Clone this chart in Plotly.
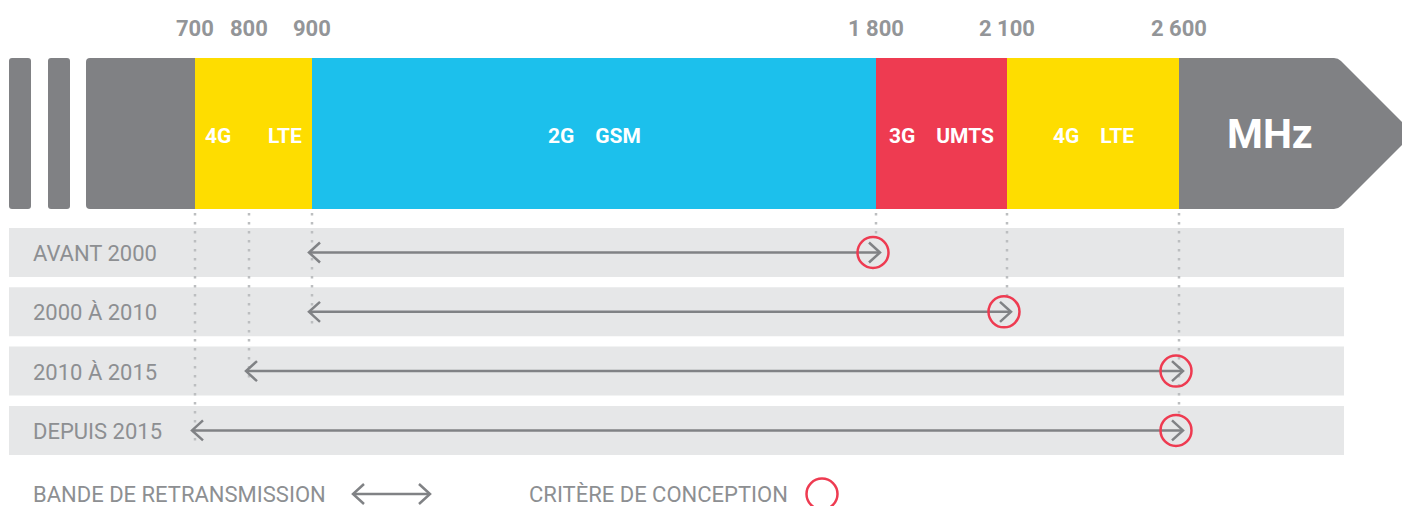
import numpy as np
import plotly.graph_objects as go

# ---------------- data ----------------
freq_ticks = [700, 800, 900, 1800, 2100, 2600]
tick_labels = ["700", "800", "900", "1 800", "2 100", "2 600"]

band_start = [700, 900, 1800, 2100]
band_end = [900, 1800, 2100, 2600]
band_tech = ["4G", "2G", "3G", "4G"]
band_std = ["LTE", "GSM", "UMTS", "LTE"]
unit_label = "MHz"

periods = ["AVANT 2000", "2000 À 2010", "2010 À 2015", "DEPUIS 2015"]
period_low = [900, 900, 800, 700]
period_high = [1800, 2100, 2600, 2600]

legend_labels = ["BANDE DE RETRANSMISSION", "CRITÈRE DE CONCEPTION"]

# ---------------- layout / style ----------------
W, H = 1402, 506
AXIS_PX = [195, 249, 312, 876, 1007, 1179]  # schematic (non-linear) frequency axis


def fx(f):
    return float(np.interp(f, freq_ticks, AXIS_PX))


GRAY = "#808184"
LIGHT = "#E6E7E8"
ARROW = "#808285"
RED = "#EE3B51"
TICK = "#939598"
LABEL = "#8D8F92"
DOT = "#BCBEC0"
band_colors = ["#FEDD00", "#1CC0EC", "#EE3B51", "#FEDD00"]
band_gap = [7, 4, 4, 4]
FONT = "Roboto"

BAR_TOP, BAR_BOT = 58, 209
BAR_MID = (BAR_TOP + BAR_BOT) / 2
ROW_TOP0, ROW_STEP, ROW_H = 228, 59.3, 49
row_y = [ROW_TOP0 + i * ROW_STEP + ROW_H / 2 for i in range(len(periods))]

shapes = []
annotations = []
traces = []


def rounded_rect(x0, x1, y0, y1, r, color):
    p = (f"M{x0+r},{y0} L{x1-r},{y0} Q{x1},{y0} {x1},{y0+r} L{x1},{y1-r} "
         f"Q{x1},{y1} {x1-r},{y1} L{x0+r},{y1} Q{x0},{y1} {x0},{y1-r} "
         f"L{x0},{y0+r} Q{x0},{y0} {x0+r},{y0} Z")
    return dict(type="path", path=p, fillcolor=color, line=dict(width=0), layer="below")


# left stubs
shapes.append(rounded_rect(9, 31, BAR_TOP, BAR_BOT, 3, GRAY))
shapes.append(rounded_rect(48, 70, BAR_TOP, BAR_BOT, 3, GRAY))

# main gray arrow body
x0, r = 86, 4
body_end = 1338
tipx = body_end + (BAR_MID - BAR_TOP)
p = (f"M{x0+r},{BAR_TOP} L{body_end-r},{BAR_TOP} Q{body_end},{BAR_TOP} {body_end+3},{BAR_TOP+3} "
     f"L{tipx},{BAR_MID} L{body_end+3},{BAR_BOT-3} Q{body_end},{BAR_BOT} {body_end-r},{BAR_BOT} "
     f"L{x0+r},{BAR_BOT} Q{x0},{BAR_BOT} {x0},{BAR_BOT-r} L{x0},{BAR_TOP+r} Q{x0},{BAR_TOP} {x0+r},{BAR_TOP} Z")
shapes.append(dict(type="path", path=p, fillcolor=GRAY, line=dict(width=0), layer="below"))

# coloured frequency bands
for s, e, c, t, sd, g in zip(band_start, band_end, band_colors, band_tech, band_std, band_gap):
    shapes.append(dict(type="rect", x0=fx(s), x1=fx(e), y0=BAR_TOP, y1=BAR_BOT,
                       fillcolor=c, line=dict(width=0), layer="below"))
    annotations.append(dict(x=(fx(s) + fx(e)) / 2, y=BAR_MID + 2, text=t + "\u00a0" * g + sd,
                            showarrow=False, xanchor="center", yanchor="middle",
                            font=dict(family=FONT, size=21, color="white", weight="bold")))

annotations.append(dict(x=1270, y=BAR_MID, text=unit_label, showarrow=False,
                        xanchor="center", yanchor="middle",
                        font=dict(family=FONT, size=41, color="white", weight="bold")))

# tick labels
for f, lab in zip(freq_ticks, tick_labels):
    annotations.append(dict(x=fx(f), y=28, text=lab, showarrow=False,
                            xanchor="center", yanchor="middle",
                            font=dict(family=FONT, size=22, color=TICK, weight="bold")))

# row backgrounds
for i, y in enumerate(row_y):
    shapes.append(dict(type="rect", x0=9, x1=1344, y0=y - ROW_H / 2, y1=y + ROW_H / 2,
                       fillcolor=LIGHT, line=dict(width=0), layer="below"))
    annotations.append(dict(x=31, y=y + 1, text=periods[i], showarrow=False,
                            xanchor="left", yanchor="middle",
                            font=dict(family=FONT, size=22, color=LABEL)))

# dotted guide lines
gx, gy = [], []
for f in freq_ticks:
    used = [i for i in range(len(periods)) if f in (period_low[i], period_high[i])]
    if not used:
        continue
    last = max(used)
    end = row_y[last] - 15 if f in period_high else row_y[last] + 12
    gx += [fx(f), fx(f), None]
    gy += [BAR_BOT + 4, end, None]
traces.append(go.Scatter(x=gx, y=gy, mode="lines", hoverinfo="skip",
                         line=dict(color=DOT, width=2.5, dash="2.5px,6.5px")))


def double_arrow(xl, xr, y, ax, ay):
    ax += [xl, xr, None,
           xl + 11, xl, xl + 11, None,
           xr - 11, xr, xr - 11, None]
    ay += [y, y, None,
           y - 10, y, y + 10, None,
           y - 10, y, y + 10, None]


ax_, ay_ = [], []
cx, cy = [], []
for i, y in enumerate(row_y):
    double_arrow(fx(period_low[i]) - 3, fx(period_high[i]) + 4, y, ax_, ay_)
    cx.append(fx(period_high[i]) - 3)
    cy.append(y)

# legend
LEG_Y = 494
annotations.append(dict(x=31, y=LEG_Y, text=legend_labels[0], showarrow=False,
                        xanchor="left", yanchor="middle",
                        font=dict(family=FONT, size=22, color=LABEL)))
double_arrow(353, 430, LEG_Y, ax_, ay_)
annotations.append(dict(x=527, y=LEG_Y, text=legend_labels[1], showarrow=False,
                        xanchor="left", yanchor="middle",
                        font=dict(family=FONT, size=22, color=LABEL)))
cx.append(822)
cy.append(LEG_Y)

traces.append(go.Scatter(x=ax_, y=ay_, mode="lines", hoverinfo="skip",
                         line=dict(color=ARROW, width=2.5)))
traces.append(go.Scatter(x=cx, y=cy, mode="markers", hoverinfo="skip",
                         marker=dict(symbol="circle-open", size=31,
                                     line=dict(color=RED, width=2.5), color=RED)))

fig = go.Figure(traces)
fig.update_layout(
    width=W, height=H, margin=dict(l=0, r=0, t=0, b=0),
    paper_bgcolor="white", plot_bgcolor="white", showlegend=False,
    xaxis=dict(range=[0, W], visible=False, fixedrange=True),
    yaxis=dict(range=[H, 0], visible=False, fixedrange=True),
    shapes=shapes, annotations=annotations,
)
fig.write_html("out.html", config={"displayModeBar": False},
               post_script="document.body.style.margin='0';document.body.style.overflow='hidden';")
